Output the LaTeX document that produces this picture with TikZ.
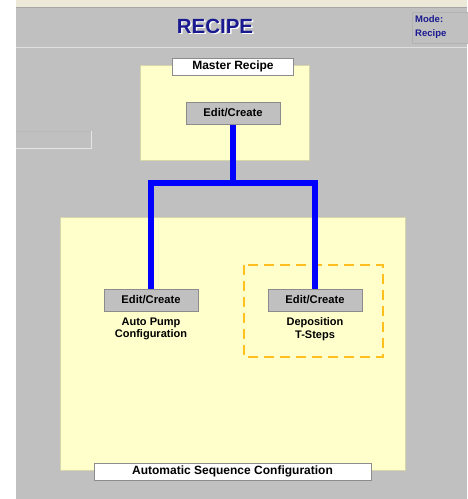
\documentclass[tikz,border=0pt]{standalone}
\usepackage{fontspec}
\setmainfont{Liberation Sans}
\pgfdeclarelayer{bg}
\pgfdeclarelayer{wires}
\pgfsetlayers{bg,wires,main}
\begin{document}
\begin{tikzpicture}[x=1pt,y=-1pt,
  panel/.style={fill=bgyellow,draw=yellowedge,line width=1pt},
  btn/.style={fill=btngray,draw=btnedge,line width=1pt,minimum width=94pt,minimum height=22pt,inner sep=0pt,font=\bfseries\fontsize{11.2}{13}\selectfont},
  labelbox/.style={fill=white,draw=btnedge,line width=1pt,inner sep=0pt,font=\bfseries\fontsize{12}{13}\selectfont},
  caption/.style={font=\bfseries\fontsize{11}{12.5}\selectfont,align=center,inner sep=0pt},
  wire/.style={draw=wireblue,line width=6.5pt,line join=miter},
  ]
\definecolor{bggray}{HTML}{C0C0C0}
\definecolor{bgyellow}{HTML}{FFFFCC}
\definecolor{yellowedge}{HTML}{D6D6AA}
\definecolor{btngray}{HTML}{C0C0C0}
\definecolor{btnedge}{HTML}{8C8C8C}
\definecolor{wireblue}{HTML}{0000FF}
\definecolor{dashorange}{HTML}{FFBF1F}
\definecolor{navy}{HTML}{1A1A90}
\definecolor{topbeige}{HTML}{ECE9D8}
\useasboundingbox (0,0) rectangle (467,499);
\begin{pgfonlayer}{bg}
% backgrounds
\fill[white] (0,0) rectangle (467,499);
\fill[bggray] (16,0) rectangle (467,499);
\fill[topbeige] (16,0) rectangle (467,7);
\draw[line width=1pt,draw=gray!70] (16,7.5) -- (467,7.5);
\draw[line width=1pt,draw=gray!25] (16,47.5) -- (467,47.5);
% mode box
\draw[line width=1pt,draw=gray!60,fill=bggray] (412,12) rectangle (470,43);
% left inset field
\draw[line width=1pt,draw=gray!55] (16,131.5) -- (92,131.5);
\draw[line width=1pt,draw=gray!20] (16,148.5) -- (91.5,148.5) -- (91.5,131);
% panels
\draw[panel] (140,65) rectangle (309,160);
\draw[panel] (60,217) rectangle (405,470);
% dashed highlight
\draw[draw=dashorange,line width=2.2pt,dash pattern=on 10pt off 6pt] (244,265) rectangle (383,357);
\end{pgfonlayer}
% title
\node[font=\bfseries\fontsize{20.5}{22}\selectfont,text=white] (titleshadow) at (216.5,27.5) {RECIPE};
\node[font=\bfseries\fontsize{20.5}{22}\selectfont,text=navy] (title) at (215,26) {RECIPE};
\node[anchor=west,font=\bfseries\fontsize{9.5}{11}\selectfont,text=navy,inner sep=0pt] (mode1) at (415,19.5) {Mode:};
\node[anchor=west,font=\bfseries\fontsize{9.5}{11}\selectfont,text=navy,inner sep=0pt] (mode2) at (415,34.5) {Recipe};
% buttons
\coordinate (hub) at (233,183);
\node[btn] (top) at (233,113) {Edit/Create};
\node[btn] (left) at (151,300) {Edit/Create};
\node[btn] (right) at (315,300) {Edit/Create};
\begin{pgfonlayer}{wires}
\draw[wire] (top.south) -- (hub);
\draw[wire] (left.north) |- (hub) -| (right.north);
\end{pgfonlayer}
% labels
\node[labelbox,minimum width=121pt,minimum height=17pt] (master) at (233,66.5) {Master Recipe};
\node[labelbox,minimum width=277pt,minimum height=17pt] (auto) at (232.5,471.5) {Automatic Sequence Configuration};
\node[caption] (capL) at (151,329) {Auto Pump\\Configuration};
\node[caption] (capR) at (315,329) {Deposition\\T-Steps};
\end{tikzpicture}
\end{document}
